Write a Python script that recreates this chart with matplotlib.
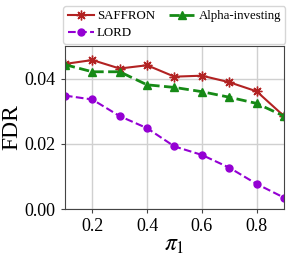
import matplotlib

matplotlib.use("Agg")
import matplotlib.pyplot as plt

plt.rcParams["font.family"] = ["Liberation Serif", "DejaVu Serif"]
plt.rcParams["mathtext.fontset"] = "stix"

pi1 = [0.1, 0.2, 0.3, 0.4, 0.5, 0.6, 0.7, 0.8, 0.9]
saffron = [0.0445, 0.0457, 0.0431, 0.0441, 0.0406, 0.0409, 0.0389, 0.0361, 0.0285]
alpha_investing = [0.0443, 0.0421, 0.0421, 0.0381, 0.0373, 0.0360, 0.0343, 0.0324, 0.0285]
lord = [0.0348, 0.0336, 0.0285, 0.0248, 0.0192, 0.0166, 0.0127, 0.0077, 0.0035]


def main() -> None:
    fig = plt.figure(figsize=(2.91, 2.60), dpi=100)
    ax = fig.add_axes([0.223, 0.196, 0.753, 0.627])

    ax.plot(pi1, saffron, color="#b22222", linestyle="-", marker=(8, 2, 0),
            markersize=7, linewidth=1.5, label="SAFFRON")
    ax.plot(pi1, lord, color="#9400d3", linestyle="--", marker="o",
            markersize=5, linewidth=1.5, label="LORD")
    ax.plot(pi1, alpha_investing, color="#168a16", linestyle="--", marker="^",
            markersize=5.5, linewidth=2, label="Alpha-investing")

    ax.set_xlim(0.1, 0.9)
    ax.set_ylim(0.0, 0.05)
    ax.set_xticks([0.2, 0.4, 0.6, 0.8])
    ax.set_yticks([0.0, 0.02, 0.04])
    ax.set_yticklabels(["0.00", "0.02", "0.04"])
    ax.tick_params(labelsize=13, length=3, color="#444444")
    ax.grid(True, color="#d0d0d0", linewidth=1)
    for spine in ax.spines.values():
        spine.set_color("#444444")

    ax.set_xlabel(r"$\pi_1$", fontsize=17, labelpad=0)
    ax.set_ylabel("FDR", fontsize=17, labelpad=2)

    ax.legend(loc="lower center", bbox_to_anchor=(0.5, 1.015), ncol=2,
              fontsize=9.3, frameon=True, edgecolor="#cccccc",
              handlelength=2.0, columnspacing=1.1, handletextpad=0.25,
              borderaxespad=0.0, borderpad=0.35, labelspacing=0.35)

    fig.savefig("out.png", dpi=100)
    plt.close(fig)


if __name__ == "__main__":
    main()
